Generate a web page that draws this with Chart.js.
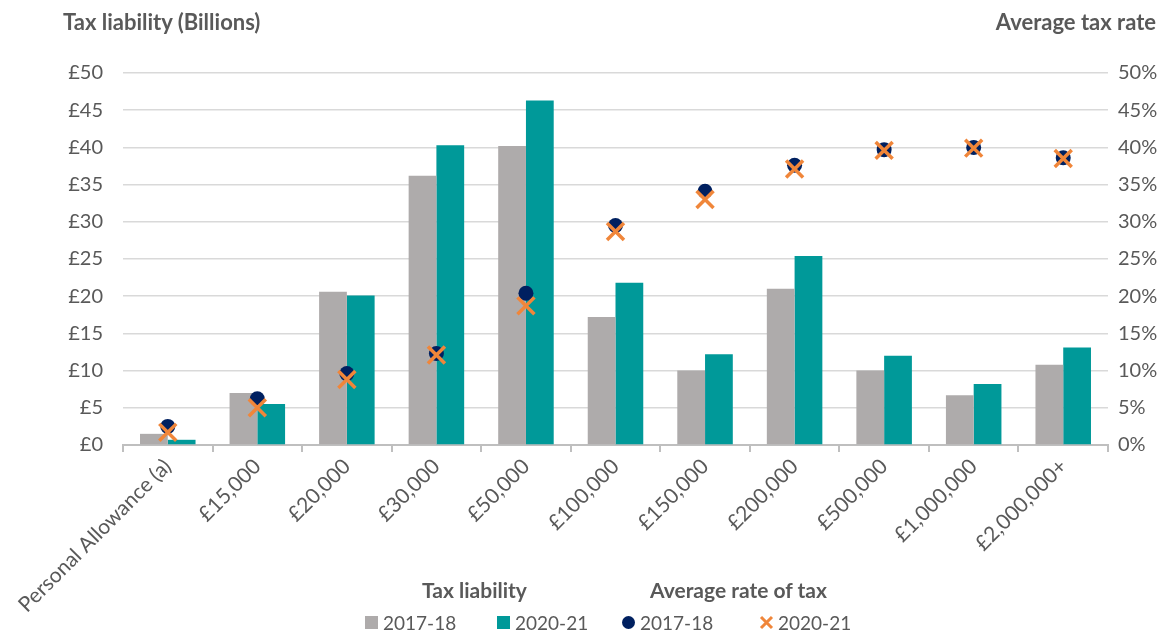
<!DOCTYPE html>
<html lang="en">
<head>
    <meta charset="UTF-8">
    <title>Tax liability and average rate of tax</title>
    <style>
        body { margin: 0; background: #fff; font-family: Lato, "Open Sans", sans-serif; color: #595959; }
        .wrap { position: relative; width: 1174px; height: 633px; }
        canvas { position: absolute; left: 0; top: 0; }
        .title { position: absolute; font-weight: bold; font-size: 22px; top: 8px; }
        .leg-head { position: absolute; font-weight: bold; font-size: 21px; top: 577px; }
        .leg-item { position: absolute; top: 611px; font-size: 19px; display: flex; align-items: center; }
        .sw { display: inline-block; width: 13px; height: 13px; margin-right: 5px; }
    </style>
</head>
<body>
    <div class="wrap">
        <canvas id="myChart" width="1174" height="633"></canvas>
        <div class="title" style="left: 63px;">Tax liability (Billions)</div>
        <div class="title" style="right: 18px;">Average tax rate</div>
        <div class="leg-head" style="left: 422px;">Tax liability</div>
        <div class="leg-head" style="left: 650px;">Average rate of tax</div>
        <div class="leg-item" style="left: 365px;"><span class="sw" style="background:#AEABAB"></span>2017-18</div>
        <div class="leg-item" style="left: 497px;"><span class="sw" style="background:#009999"></span>2020-21</div>
        <div class="leg-item" style="left: 622px;"><span class="sw" style="background:#002060;border-radius:50%"></span>2017-18</div>
        <div class="leg-item" style="left: 759px;">
            <svg width="15" height="15" style="margin-right:4px"><path d="M2 2 L13 13 M13 2 L2 13" stroke="#F0863A" stroke-width="3"/></svg>2020-21
        </div>
    </div>
    <script src="https://cdn.jsdelivr.net/npm/chart.js"></script>
    <script>
        var faixas = ["Personal Allowance (a)", "£15,000", "£20,000", "£30,000", "£50,000", "£100,000",
            "£150,000", "£200,000", "£500,000", "£1,000,000", "£2,000,000+"];
        var imposto2017 = [1.5, 7.0, 20.6, 36.2, 40.2, 17.2, 10.0, 21.0, 10.0, 6.7, 10.8];
        var imposto2020 = [0.7, 5.5, 20.1, 40.3, 46.3, 21.8, 12.2, 25.4, 12.0, 8.2, 13.1];
        var taxa2017 = [2.5, 6.2, 9.6, 12.3, 20.4, 29.5, 34.1, 37.6, 39.7, 40.0, 38.6];
        var taxa2020 = [1.7, 5.0, 8.8, 12.1, 18.7, 28.7, 33.0, 37.1, 39.6, 39.9, 38.5];

        var cinza = "#595959";
        var fonte = { family: "Lato", size: 20 };

        var data = {
            labels: faixas,
            datasets: [
                {
                    type: "bar", label: "2017-18", data: imposto2017, yAxisID: "y",
                    backgroundColor: "#AEABAB", order: 2,
                    categoryPercentage: 0.62, barPercentage: 1.0
                },
                {
                    type: "bar", label: "2020-21", data: imposto2020, yAxisID: "y",
                    backgroundColor: "#009999", order: 2,
                    categoryPercentage: 0.62, barPercentage: 1.0
                },
                {
                    type: "line", label: "2017-18 rate", data: taxa2017, yAxisID: "y2",
                    showLine: false, pointStyle: "circle", pointRadius: 7.5,
                    pointBackgroundColor: "#002060", pointBorderWidth: 0, order: 1
                },
                {
                    type: "line", label: "2020-21 rate", data: taxa2020, yAxisID: "y2",
                    showLine: false, pointStyle: "crossRot", pointRadius: 12,
                    pointBorderColor: "#F0863A", pointBorderWidth: 3.5, order: 0
                }
            ]
        };

        var config = {
            type: "bar",
            data: data,
            options: {
                responsive: false,
                animation: false,
                layout: { padding: { top: 73, left: 0, right: 0, bottom: 0 } },
                plugins: {
                    legend: { display: false },
                    tooltip: { enabled: false }
                },
                scales: {
                    x: {
                        offset: true,
                        grid: { drawOnChartArea: false, drawTicks: true, tickLength: 7, color: "#BFBFBF", lineWidth: 2 },
                        border: { color: "#BFBFBF", width: 2 },
                        ticks: { color: cinza, font: { family: "Lato", size: 21 }, minRotation: 45, maxRotation: 45, padding: 2 },
                        afterFit: function (scale) { scale.height = 188; }
                    },
                    y: {
                        position: "left",
                        min: 0, max: 50,
                        ticks: { stepSize: 5, color: cinza, font: fonte, padding: 20,
                            callback: function (v) { return "£" + v; } },
                        grid: { color: "#D9D9D9", lineWidth: 1.5, drawTicks: false },
                        border: { display: false },
                        afterFit: function (scale) { scale.width = 123; }
                    },
                    y2: {
                        position: "right",
                        min: 0, max: 50,
                        ticks: { stepSize: 5, color: cinza, font: fonte, padding: 10,
                            callback: function (v) { return v + "%"; } },
                        grid: { drawOnChartArea: false, drawTicks: false },
                        border: { display: false },
                        afterFit: function (scale) { scale.width = 66; }
                    }
                }
            }
        };

        new Chart(document.getElementById("myChart"), config);
    </script>
</body>
</html>
